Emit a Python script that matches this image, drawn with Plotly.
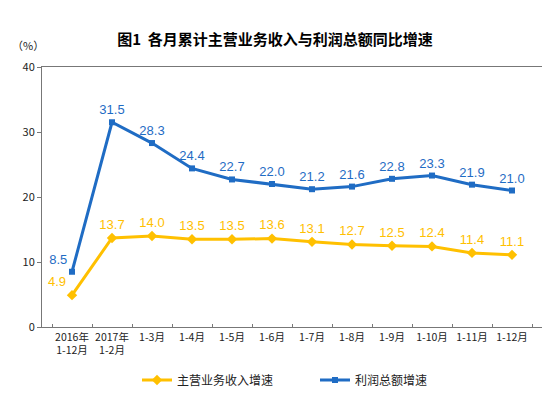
import plotly.graph_objects as go

categories = ["2016年<br>1-12月", "2017年<br>1-2月", "1-3月", "1-4月", "1-5月", "1-6月",
              "1-7月", "1-8月", "1-9月", "1-10月", "1-11月", "1-12月"]
revenue_growth = [4.9, 13.7, 14.0, 13.5, 13.5, 13.6, 13.1, 12.7, 12.5, 12.4, 11.4, 11.1]
profit_growth = [8.5, 31.5, 28.3, 24.4, 22.7, 22.0, 21.2, 21.6, 22.8, 23.3, 21.9, 21.0]
y_ticks = [0, 10, 20, 30, 40]

YELLOW = "#FFC000"
BLUE = "#1F6CC4"

fig = go.Figure()
fig.add_trace(go.Scatter(
    x=categories, y=revenue_growth, name="主营业务收入增速",
    mode="lines+markers+text",
    line=dict(color=YELLOW, width=3),
    marker=dict(symbol="diamond", size=8, color=YELLOW),
    text=[f"{v:.1f}" for v in revenue_growth],
    textposition=["top left"] + ["top center"] * 11,
    textfont=dict(color=YELLOW, size=13, family="Liberation Sans, Arial"),
))
fig.add_trace(go.Scatter(
    x=categories, y=profit_growth, name="利润总额增速",
    mode="lines+markers+text",
    line=dict(color=BLUE, width=3),
    marker=dict(symbol="square", size=6, color=BLUE),
    text=[f"{v:.1f}" for v in profit_growth],
    textposition=["top left"] + ["top center"] * 11,
    textfont=dict(color=BLUE, size=13, family="Liberation Sans, Arial"),
))

fig.update_layout(
    width=534, height=381,
    margin=dict(l=34, r=0, t=59, b=62, autoexpand=False),
    paper_bgcolor="white", plot_bgcolor="white",
    font=dict(family="Noto Sans CJK SC, Liberation Sans", size=11, color="#222"),
    title=dict(text="<b>图1  各月累计主营业务收入与利润总额同比增速</b>",
               x=0.5, xanchor="center", y=0.916, yanchor="middle",
               font=dict(size=15, color="#000")),
    xaxis=dict(type="category", tickson="boundaries", ticks="inside", ticklen=3,
               tickcolor="#777", showline=True, linecolor="#777", linewidth=1,
               mirror=True, showgrid=False, tickfont=dict(size=10.5),
               tickangle=0, automargin=False),
    yaxis=dict(range=[0, 40], tickvals=y_ticks, ticks="outside", ticklen=4,
               tickcolor="#777", showline=True, linecolor="#777", linewidth=1,
               mirror=True, showgrid=False, zeroline=False, tickfont=dict(size=11),
               automargin=False),
    legend=dict(orientation="h", x=0.19, xanchor="left", y=-0.204, yanchor="middle",
                font=dict(size=12), itemwidth=30, entrywidth=133, entrywidthmode="pixels",
                traceorder="normal"),
    showlegend=True,
)
fig.add_annotation(text="（%）", xref="paper", yref="paper", x=-0.065, y=1.046,
                   xanchor="left", yanchor="bottom", showarrow=False,
                   font=dict(size=11))

fig.write_html("out.html")
